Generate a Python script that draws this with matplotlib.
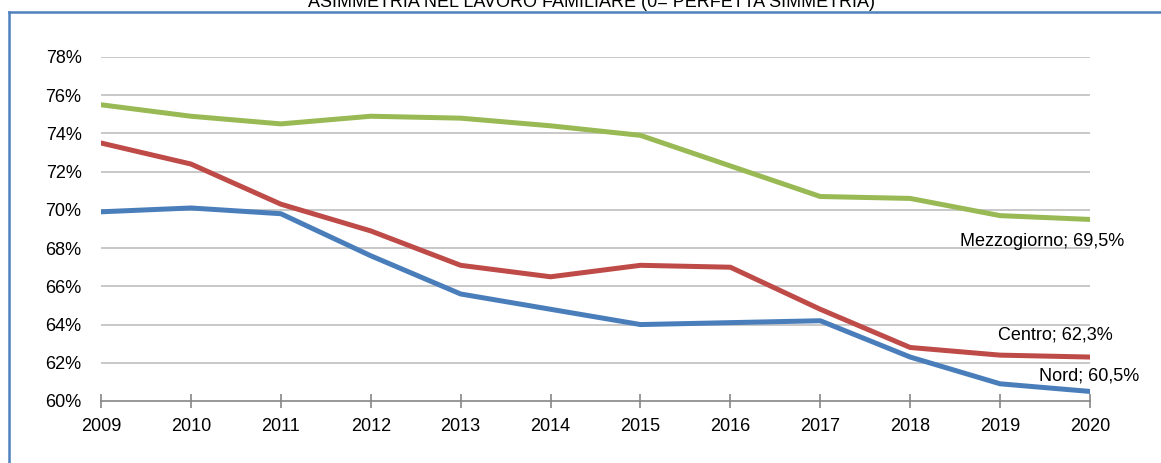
import matplotlib.pyplot as plt
from matplotlib.lines import Line2D
from matplotlib.ticker import FuncFormatter

# Asimmetria nel lavoro familiare per ripartizione
anni = list(range(2009, 2021))
nord = [69.9, 70.1, 69.8, 67.6, 65.6, 64.8, 64.0, 64.1, 64.2, 62.3, 60.9, 60.5]
centro = [73.5, 72.4, 70.3, 68.9, 67.1, 66.5, 67.1, 67.0, 64.8, 62.8, 62.4, 62.3]
mezzogiorno = [75.5, 74.9, 74.5, 74.9, 74.8, 74.4, 73.9, 72.3, 70.7, 70.6, 69.7, 69.5]
yticks = list(range(60, 80, 2))
titolo = "ASIMMETRIA NEL LAVORO FAMILIARE (0= PERFETTA SIMMETRIA)"

plt.rcParams['font.family'] = ['Liberation Sans Narrow', 'Liberation Sans', 'DejaVu Sans']
fs = 13

fig = plt.figure(figsize=(11.61, 4.63), dpi=100)
ax = fig.add_axes([101/1161, 1 - 401/463, (1090 - 101)/1161, (401 - 57)/463])

ax.plot(anni, nord, color='#4A7EBB', lw=3.6, solid_capstyle='round', zorder=3)
ax.plot(anni, centro, color='#BE4B48', lw=3.6, solid_capstyle='round', zorder=3)
ax.plot(anni, mezzogiorno, color='#98B954', lw=3.6, solid_capstyle='round', zorder=3)

ax.set_xlim(2009, 2020)
ax.set_ylim(60, 78)
ax.set_xticks(anni)
ax.set_yticks(yticks)
ax.yaxis.set_major_formatter(FuncFormatter(lambda v, p: '%d%%' % v))

for y in yticks[1:]:
    ax.axhline(y, color='#BFBFBF', lw=1.2, zorder=1)

for s in ['top', 'right', 'left']:
    ax.spines[s].set_visible(False)
ax.spines['bottom'].set_color('#868686')
ax.spines['bottom'].set_linewidth(1.2)

ax.tick_params(axis='y', length=0, pad=14, labelsize=fs)
ax.tick_params(axis='x', direction='inout', length=10, width=1.2, color='#868686',
               pad=7, labelsize=fs)

# etichette finali
lab = dict(fontsize=fs, textcoords='offset pixels', ha='center', va='center')
ax.annotate('Mezzogiorno; 69,5%', (anni[-1], mezzogiorno[-1]), xytext=(-48, -22), **lab)
ax.annotate('Centro; 62,3%', (anni[-1], centro[-1]), xytext=(-35, 22), **lab)
ax.annotate('Nord; 60,5%', (anni[-1], nord[-1]), xytext=(-1, 15), **lab)

# titolo (tagliato in alto come nell'originale) e cornice
fig.text(591/1161, 1 - 7/463, titolo, ha='center', va='baseline', fontsize=fs)
fig.add_artist(Line2D([9/1161, 1], [1 - 12/463, 1 - 12/463], color='#4F81BD', lw=1.8,
                      transform=fig.transFigure))
fig.add_artist(Line2D([9/1161, 9/1161], [0, 1 - 12/463], color='#4F81BD', lw=1.8,
                      transform=fig.transFigure))

fig.savefig('out.png', dpi=100)
